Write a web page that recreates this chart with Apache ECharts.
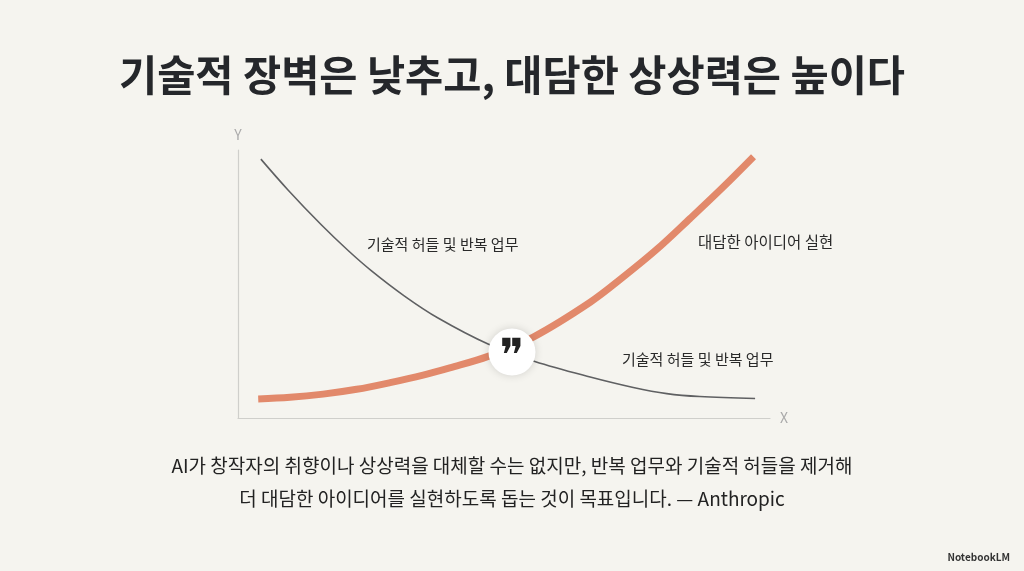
<!DOCTYPE html>
<html><head><meta charset="utf-8">
<script src="https://cdn.jsdelivr.net/npm/echarts@6/dist/echarts.min.js"></script>
<style>html,body{margin:0;padding:0;background:#f5f4ef;}#c{width:1024px;height:571px;}</style>
</head><body><div id="c"></div>
<script>
var titleText = '기술적 장벽은 낮추고, 대담한 상상력은 높이다';
var captionLines = ['AI가 창작자의 취향이나 상상력을 대체할 수는 없지만, 반복 업무와 기술적 허들을 제거해', '더 대담한 아이디어를 실현하도록 돕는 것이 목표입니다. — Anthropic'];
var grayLabel = '기술적 허들 및 반복 업무';
var orangeLabel = '대담한 아이디어 실현';
var grayX = [4.3, 9.4, 15.7, 20.7, 25.1, 31.3, 37.6, 47.0, 55.8, 66.2, 74.3, 80.6, 86.8, 97.2];
var grayY = [96.6, 85.1, 72.0, 62.5, 54.9, 45.5, 37.3, 27.6, 21.1, 15.3, 11.4, 9.1, 8.0, 7.3];
var orangeX = [3.8, 9.8, 16.0, 22.3, 28.6, 34.8, 39.8, 47.0, 55.5, 66.2, 72.4, 78.7, 85.0, 91.2, 96.9];
var orangeY = [7.1, 7.7, 8.9, 10.7, 13.2, 16.0, 18.7, 23.0, 30.2, 43.2, 52.6, 62.9, 74.5, 86.2, 97.5];
var crossPoint = [51.5, 24.6];

function pairs(xs, ys){ return xs.map(function(x,i){ return [x, ys[i]]; }); }
var font = '"Noto Sans CJK KR", "Noto Sans", sans-serif';
var chart = echarts.init(document.getElementById('c'));
chart.setOption({
  backgroundColor: '#f5f4ef',
  animation: false,
  title: {
    text: titleText, left: 'center', top: 49,
    textStyle: {fontFamily: font, fontSize: 41.5, fontWeight: 'bold', color: '#25272b'}
  },
  grid: {left: 238, right: 254, top: 150, bottom: 153},
  xAxis: {
    type: 'value', min: 0, max: 100, name: 'X', nameGap: 10,
    nameTextStyle: {color: '#aaa', fontSize: 14, fontFamily: font},
    axisLine: {show: true, lineStyle: {color: '#cfcfcb', width: 1.2}},
    axisTick: {show: false}, axisLabel: {show: false}, splitLine: {show: false}
  },
  yAxis: {
    type: 'value', min: 0, max: 100, name: 'Y', nameGap: 8,
    nameTextStyle: {color: '#aaa', fontSize: 14, fontFamily: font, align: 'center'},
    axisLine: {show: true, lineStyle: {color: '#cfcfcb', width: 1.2}},
    axisTick: {show: false}, axisLabel: {show: false}, splitLine: {show: false}
  },
  series: [
    {type: 'line', data: pairs(grayX, grayY), smooth: 0.35, symbol: 'none',
     lineStyle: {color: '#5f6062', width: 1.6}, z: 2},
    {type: 'line', data: pairs(orangeX, orangeY), smooth: 0.35, symbol: 'none',
     lineStyle: {color: '#e2896b', width: 7}, z: 3},
    {type: 'scatter', data: [crossPoint], symbol: 'circle', symbolSize: 47,
     itemStyle: {color: '#ffffff', opacity: 1, shadowBlur: 8, shadowColor: 'rgba(0,0,0,0.15)'},
     label: {show: true, position: 'inside', formatter: '❞', fontSize: 46, color: '#222', fontFamily: 'DejaVu Sans', offset: [0, 7]},
     z: 5}
  ],
  graphic: [
    {type: 'text', left: 367, top: 237, style: {text: grayLabel, font: '15px ' + font, fill: '#2a2a2a'}},
    {type: 'text', left: 698, top: 234, style: {text: orangeLabel, font: '15.5px ' + font, fill: '#2a2a2a'}},
    {type: 'text', left: 622, top: 352, style: {text: grayLabel, font: '15px ' + font, fill: '#2a2a2a'}},
    {type: 'text', left: 'center', top: 456, style: {text: captionLines[0], font: '19px ' + font, fill: '#222'}},
    {type: 'text', left: 'center', top: 489, style: {text: captionLines[1], font: '19px ' + font, fill: '#222'}},
    {type: 'text', right: 14, top: 552, style: {text: 'NotebookLM', font: 'bold 10px ' + font, fill: '#333'}}
  ]
});
</script></body></html>
